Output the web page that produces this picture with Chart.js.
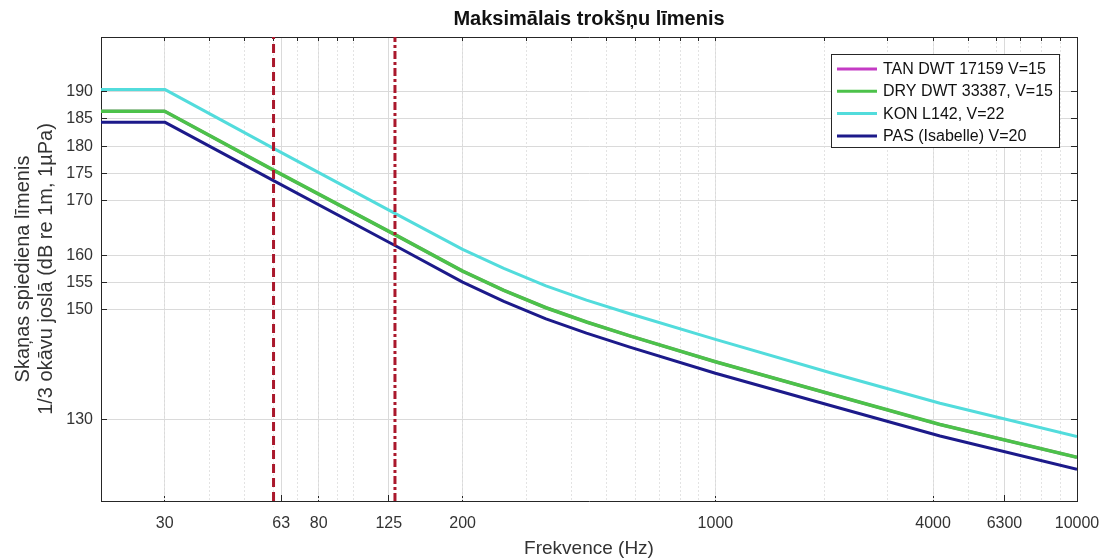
<!DOCTYPE html>
<html><head><meta charset="utf-8">
<script src="https://cdn.jsdelivr.net/npm/chart.js@4.4.1/dist/chart.umd.min.js"></script>
<style>html,body{margin:0;padding:0;background:#fff;}canvas{display:block;}</style>
</head><body>
<canvas id="c" width="1107" height="560"></canvas>
<script>
// ---- data ----
const frequencies = [20, 30, 60, 130, 200, 260, 340, 440, 580, 1000, 2080, 4180, 10000];
const tanValues   = [186.4, 186.4, 175.6, 163.8, 157.1, 153.6, 150.4, 147.8, 145.25, 140.5, 134.6, 129.0, 123.0];
const dryValues   = [186.4, 186.4, 175.6, 163.8, 157.1, 153.6, 150.4, 147.8, 145.25, 140.5, 134.6, 129.0, 123.0];
const konValues   = [190.4, 190.4, 179.6, 167.7, 161.1, 157.6, 154.4, 151.8, 149.3, 144.6, 138.5, 132.9, 126.8];
const pasValues   = [184.4, 184.4, 173.7, 161.8, 155.1, 151.55, 148.35, 145.75, 143.2, 138.4, 132.5, 126.9, 120.8];
const seriesLabels = ['TAN DWT 17159 V=15', 'DRY DWT 33387, V=15', 'KON L142, V=22', 'PAS (Isabelle) V=20'];
const markerFrequencies = [60, 130];
const xTickLabels = [30, 63, 80, 125, 200, 1000, 4000, 6300, 10000];
const xMinorGrid = [30, 40, 50, 60, 70, 80, 90, 100, 200, 300, 400, 500, 600, 700, 800, 900, 1000, 2000, 3000, 4000, 5000, 6000, 7000, 8000, 9000];
const yTickLabels = [130, 150, 155, 160, 170, 175, 180, 185, 190];
const xRange = [20, 10000];
const yRange = [115, 200];

const FONT = '"Liberation Sans", Arial, Helvetica, sans-serif';
const AXIS = '#262626';
const pts = (vals) => frequencies.map((f, i) => ({x: f, y: vals[i]}));
const vline = (f) => [{x: f, y: yRange[0]}, {x: f, y: yRange[1]}];

const series = [
  {label: seriesLabels[0], data: pts(tanValues), borderColor: '#c43bc4', borderWidth: 3, order: 6, inLegend: true},
  {label: seriesLabels[1], data: pts(dryValues), borderColor: '#4cc24a', borderWidth: 3.6, order: 5, inLegend: true},
  {label: seriesLabels[2], data: pts(konValues), borderColor: '#52dcdc', borderWidth: 3, order: 4, inLegend: true},
  {label: seriesLabels[3], data: pts(pasValues), borderColor: '#1c1a8a', borderWidth: 3, order: 3, inLegend: true},
  {label: 'm1', data: vline(markerFrequencies[0]), borderColor: 'rgb(170,24,44)', borderWidth: 3, borderDash: [9, 5], order: 1},
  {label: 'm2', data: vline(markerFrequencies[1]), borderColor: 'rgb(170,24,44)', borderWidth: 3, borderDash: [8, 3, 3, 3], order: 2}
];
series.forEach(s => { s.pointRadius = 0; s.fill = false; s.tension = 0; s.borderJoinStyle = 'round'; s.backgroundColor = s.borderColor; });

const legendPlugin = {
  id: 'boxLegend',
  afterDraw(chart) {
    const ctx = chart.ctx, ca = chart.chartArea;
    const items = chart.data.datasets.filter(d => d.inLegend);
    ctx.save();
    ctx.font = '16px ' + FONT;
    const lineLen = 40, pad = 6, gap = 6, rowH = 22.3;
    const textW = Math.max(...items.map(d => ctx.measureText(d.label).width));
    const w = pad + lineLen + gap + textW + 6;
    const h = items.length * rowH + 4;
    const right = ca.right - 18, top = ca.top + 17, left = right - w;
    ctx.fillStyle = '#fff';
    ctx.fillRect(left, top, w, h);
    ctx.strokeStyle = AXIS; ctx.lineWidth = 1;
    ctx.strokeRect(Math.round(left) + 0.5, Math.round(top) + 0.5, Math.round(w), Math.round(h));
    items.forEach((d, i) => {
      const cy = top + 15 + rowH * i;
      ctx.strokeStyle = d.borderColor; ctx.lineWidth = 3;
      ctx.beginPath(); ctx.moveTo(left + pad, cy); ctx.lineTo(left + pad + lineLen, cy); ctx.stroke();
      ctx.fillStyle = '#111'; ctx.textBaseline = 'middle'; ctx.textAlign = 'left';
      ctx.fillText(d.label, left + pad + lineLen + gap, cy + 0.5);
    });
    ctx.restore();
  }
};

new Chart(document.getElementById('c'), {
  type: 'line',
  data: {datasets: series},
  plugins: [legendPlugin],
  options: {
    responsive: false,
    animation: false,
    layout: {padding: 0},
    plugins: {
      legend: {display: false},
      tooltip: {enabled: false},
      title: {display: true, fullSize: false, text: 'Maksimālais trokšņu līmenis', color: '#111',
        font: {family: FONT, size: 20, weight: 'bold'}, padding: {top: 7, bottom: 6}}
    },
    scales: {
      x: {
        type: 'logarithmic', position: 'bottom', min: xRange[0], max: xRange[1],
        afterBuildTicks: s => { s.ticks = xTickLabels.map(v => ({value: v})); },
        afterFit: s => { s.height = 59; s.paddingLeft = 0; s.paddingRight = 0; },
        ticks: {autoSkip: false, maxRotation: 0, minRotation: 0, padding: 19, color: '#333',
          font: {family: FONT, size: 16}, callback: v => String(v)},
        grid: {color: '#dadada', lineWidth: 1, drawTicks: true, tickLength: -6, tickColor: AXIS, tickWidth: 1},
        border: {display: true, color: AXIS, width: 1},
        title: {display: true, text: 'Frekvence (Hz)', color: '#333', font: {family: FONT, size: 19}, padding: {top: 0, bottom: 0}}
      },
      x2: {
        type: 'logarithmic', position: 'top', min: xRange[0], max: xRange[1],
        afterBuildTicks: s => { s.ticks = xMinorGrid.map(v => ({value: v})); },
        afterFit: s => { s.height = 0; s.paddingLeft = 0; s.paddingRight = 0; },
        ticks: {display: false},
        grid: {color: '#e3e3e3', lineWidth: 1, drawTicks: true, tickLength: -4, tickColor: AXIS},
        border: {display: true, color: AXIS, width: 1, dash: [2, 2]}
      },
      y: {
        type: 'linear', position: 'left', min: yRange[0], max: yRange[1],
        afterBuildTicks: s => { s.ticks = yTickLabels.map(v => ({value: v})); },
        afterFit: s => { s.width = 101; },
        ticks: {padding: 14, color: '#333', font: {family: FONT, size: 16}, callback: v => String(v)},
        grid: {color: '#dadada', lineWidth: 1, drawTicks: true, tickLength: -6, tickColor: AXIS},
        border: {display: true, color: AXIS, width: 1},
        title: {display: true, text: ['Skaņas spiediena līmenis', '1/3 okāvu joslā (dB re 1m, 1µPa)'],
          color: '#333', font: {family: FONT, size: 20, lineHeight: 1.15}, padding: {top: 12, bottom: 0}}
      },
      y2: {
        type: 'linear', position: 'right', min: yRange[0], max: yRange[1],
        afterBuildTicks: s => { s.ticks = yTickLabels.map(v => ({value: v})); },
        afterFit: s => { s.width = 30; },
        ticks: {display: false},
        grid: {display: true, drawOnChartArea: false, drawTicks: true, tickLength: -6, tickColor: AXIS},
        border: {display: true, color: AXIS, width: 1}
      }
    }
  }
});
</script>
</body></html>
